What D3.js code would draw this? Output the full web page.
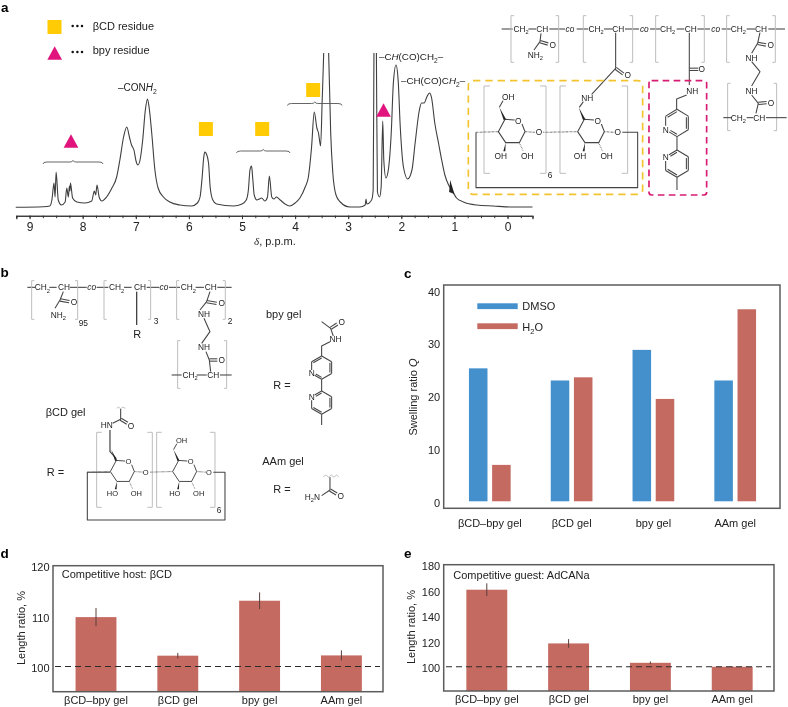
<!DOCTYPE html>
<html><head><meta charset="utf-8">
<script src="https://cdn.jsdelivr.net/npm/d3@7"></script>
<style>
html,body{margin:0;padding:0;background:#fff}
svg{display:block;filter:blur(0.3px)}
text{font-family:"Liberation Sans",Arial,sans-serif;fill:#222}
</style></head><body><svg id="c" width="788" height="707"></svg>
<script>
// ---------- data ----------
const spectrumDelta = [9.26,8.74,8.62,8.58,8.54,8.52,8.50,8.46,8.40,8.33,8.30,8.27,8.25,8.24,8.23,8.19,8.11,7.96,7.83,7.78,7.755,7.73,7.69,7.64,7.55,7.45,7.36,7.30,7.23,7.17,7.12,7.08,7.03,7.0,6.96,6.92,6.87,6.82,6.78,6.75,6.70,6.64,6.58,6.48,6.36,6.17,5.95,5.84,5.79,5.75,5.72,5.70,5.67,5.63,5.60,5.55,5.48,5.16,5.0,4.92,4.88,4.85,4.82,4.80,4.77,4.72,4.67,4.63,4.57,4.52,4.485,4.44,4.40,4.35,4.28,4.19,4.10,4.0,3.91,3.81,3.75,3.69,3.64,3.59,3.56,3.52,3.49,3.46,3.41,3.37,3.33,3.29,3.23,3.15,2.97,2.78,2.68,2.665,2.65,2.56,2.53,2.515,2.49,2.47,2.45,2.41,2.38,2.35,2.33,2.29,2.245,2.19,2.15,2.10,2.06,2.02,1.96,1.88,1.80,1.74,1.66,1.62,1.57,1.52,1.47,1.43,1.37,1.30,1.24,1.18,1.11,1.05,0.96,0.83,0.58,0.27,-0.11,-0.47];
const spectrumHeight = [0.7,1.3,2,8,25,11,36,8,3,6,20,11,22,17,25,10,6,5,7,17,13,23,11,7,11,20,31,48,71,81,71,63,57,48,43,48,68,98,109,101,75,38,20,11,6,3,2,5,11,31,51,56,54,45,21,8,4,2,4,8,18,38,42,31,13,8,9,10,7,11,32,11,9,11,8,4,2,5,10,21,31,61,96,80,75,62,108,158,300,158,75,35,13,6,1,1,3,9,4,8,18,160,300,160,16,11,21,87,48,30,38,75,125,143,128,81,41,29,38,65,98,105,105,111,115,110,85,65,48,33,23,18,10,6,3,2,1,1];
const spectrumMajorTicks = [9,8,7,6,5,4,3,2,1,0];
const bcdMarkerDelta = [5.68,4.62,3.66];
const bcdMarkerHeight = [79,79,118];
const bpyMarkerDelta = [8.22,2.335];
const bpyMarkerHeight = [67,98];

const gels = ["βCD–bpy gel","βCD gel","bpy gel","AAm gel"];
const swellSeries = ["DMSO","H2O"];
const swellDMSO = [25.2,22.9,28.7,22.9];
const swellH2O = [6.9,23.5,19.4,36.4];
const swellTicks = [0,10,20,30,40];
const hostLength = [109.8,102.15,113.05,102.2];
const hostError = [1.8,0.55,1.65,1.0];
const hostTicks = [100,110,120];
const guestLength = [160.4,118.3,103.1,100];
const guestError = [5,3.4,1,0.5];
const guestTicks = [100,120,140,160,180];

// ---------- palette ----------
const BLUE="#4390CD", RED="#C56A61", GOLD="#FFCB05", MAGENTA="#E0147C", FRAME="#5c5c5c", INK="#444";
const svg=d3.select("#c");

// rich text: _x subscript, *x* italic
function rich(g,x,y,str,o={}){
  const t=g.append("text").attr("x",x).attr("y",y).attr("font-size",o.size||11)
    .attr("text-anchor",o.anchor||"start").attr("dy",o.dy||null);
  if(o.rotate!=null) t.attr("transform",`rotate(${o.rotate} ${x} ${y})`);
  const size=o.size||11;
  const re=/(_[^_ ]|\*[^*]+\*)/g; let sub=false;
  str.split(re).filter(s=>s).forEach(p=>{
    const s=t.append("tspan");
    if(p[0]==="_"){s.text(p.slice(1)).attr("font-size",size*.68).attr("dy",size*.28);sub=true;}
    else{
      if(sub){s.attr("dy",-size*.28);sub=false;}
      if(p[0]==="*"){s.text(p.slice(1,-1)).attr("font-style","italic");}
      else s.text(p);
    }
  });
  return t;
}
const panelLetter=(t,x,y)=>svg.append("text").attr("x",x).attr("y",y).attr("font-size",13.5).attr("font-weight","bold").style("fill","#000").text(t);
panelLetter("a",1,12);panelLetter("b",0.5,277);panelLetter("c",404,278);panelLetter("d",0.5,558);panelLetter("e",404,558);

// ---------- panel a: spectrum ----------
const xA=d3.scaleLinear().domain([9.25,-0.47]).range([16.3,532.5]);
const yA=d3.scaleLinear().domain([0,155]).range([208,53]);
svg.append("clipPath").attr("id","specClip").append("rect").attr("x",10).attr("y",yA(155)).attr("width",530).attr("height",170);
svg.append("path").attr("clip-path","url(#specClip)")
  .attr("d",d3.line().x(d=>xA(d[0])).y(d=>yA(d[1])).curve(d3.curveMonotoneX)(spectrumDelta.map((d,i)=>[d,spectrumHeight[i]])))
  .attr("fill","none").attr("stroke","#3f3f3f").attr("stroke-width",1.1);
// small arrow on the trace
svg.append("path").attr("d",`M${xA(1.08)},${yA(28)}L${xA(1.0)},${yA(14)}L${xA(1.1)},${yA(16)}Z`).attr("fill","#222");
const axA=svg.append("g").attr("transform","translate(0,215.7)");
axA.call(d3.axisBottom(xA).tickValues(d3.range(-0.25,9.26,0.25)).tickSize(2.5).tickFormat(""));
axA.append("g").call(d3.axisBottom(xA).tickValues(spectrumMajorTicks).tickSize(3.5).tickPadding(3.5).tickFormat(d3.format("d")));
axA.selectAll("path.domain").attr("stroke","#333").attr("stroke-width",1.1);
axA.selectAll("line").attr("stroke","#333");
axA.selectAll("text").attr("font-size",12).attr("font-family",'"Liberation Sans"').style("fill","#222");
const dl=svg.append("text").attr("x",254).attr("y",245).attr("font-size",11);
dl.append("tspan").text("δ").attr("font-style","italic").style("font-family",'"Liberation Serif"');
dl.append("tspan").text(", p.p.m.");

function square(g,cx,cy,s=14){g.append("rect").attr("x",cx-s/2).attr("y",cy-s/2).attr("width",s).attr("height",s).attr("fill",GOLD);}
function tri(g,cx,cy,w=14.7,h=13.3){g.append("path").attr("d",d3.line()([[cx,cy-h/2],[cx+w/2,cy+h/2],[cx-w/2,cy+h/2]])+"Z").attr("fill",MAGENTA);}
bcdMarkerDelta.forEach((d,i)=>square(svg,xA(d),yA(bcdMarkerHeight[i])));
bpyMarkerDelta.forEach((d,i)=>tri(svg,xA(d),yA(bpyMarkerHeight[i])));
square(svg,54.5,27);tri(svg,54.7,53);
[[26],[52]].forEach(([y])=>[72.7,77.4,82].forEach(x=>svg.append("circle").attr("cx",x).attr("cy",y).attr("r",1.25).attr("fill","#111")));
rich(svg,92.7,30,"βCD residue");
rich(svg,92.7,54,"bpy residue");
function brace(x0,x1,y){const m=(x0+x1)/2;
  svg.append("path").attr("d",`M${x0},${y+2}Q${x0},${y} ${x0+4},${y}L${m-3},${y}Q${m-1},${y} ${m},${y-1.5}Q${m+1},${y} ${m+3},${y}L${x1-4},${y}Q${x1},${y} ${x1},${y+2}`).attr("fill","none").attr("stroke","#555").attr("stroke-width",.9);}
brace(43,103,162);brace(236.5,290,151);brace(287.5,342,103.5);
rich(svg,118,91,"–CON*H*_2",{size:10});
rich(svg,379,60,"–C*H*(CO)CH_2–",{size:9.8});
rich(svg,401,84,"–CH(CO)C*H*_2–",{size:9.8});

// ---------- chemical structure helpers (drawn in 3x local units) ----------
function seg(g,pts,o={}){return g.append("path").attr("d",d3.line()(pts)).attr("fill","none").attr("stroke",o.c||INK).attr("stroke-width",o.w||3.2).attr("stroke-dasharray",o.d||null).attr("stroke-linejoin","round");}
function brk(g,x,y0,y1,dir,w=8){seg(g,[[x+dir*w,y0],[x,y0],[x,y1],[x+dir*w,y1]],{c:"#bdbdbd",w:3});}
function lab(g,x,y,s,o={}){return rich(g,x,y,s,Object.assign({size:25,anchor:"middle",dy:"0.36em"},o));}
function dbl(g,a,b){const dx=b[0]-a[0],dy=b[1]-a[1],l=Math.hypot(dx,dy),nx=-dy/l*3.5,ny=dx/l*3.5;
  seg(g,[[a[0]+nx,a[1]+ny],[b[0]+nx,b[1]+ny]]);seg(g,[[a[0]-nx,a[1]-ny],[b[0]-nx,b[1]-ny]]);}
function glucose(g,ox,oy,s,o){
  const r=g.append("g").attr("transform",`translate(${ox},${oy}) scale(${s})`);
  seg(r,[[-11,-2],[-40,-4],[-60,33],[-38,66],[3,66],[20,33],[11,10]]);
  lab(r,0,0,"O");
  r.append("path").attr("d","M-37,-4L-44,-2L-57,-40Z").attr("fill","#222");
  r.append("path").attr("d","M-38,66L-45,92L-39,92Z").attr("fill","#222");
  seg(r,[[3,66],[14,90]],{d:"2 3"});
  seg(r,[[20,33],[50,35]],{d:"2 2"});
  seg(r,[[o.left,35],[-60,33]],{d:"2 2"});
  lab(r,o.oX||62,35,"O");
  lab(r,-53,106,o.leftOH||"OH");lab(r,27,106,"OH");
  if(o.top==="OH"){seg(r,[[-57,-40],[-46,-60]]);lab(r,-30,-72,"OH");}
  return r;
}
function hexRing(g,c,rx,ry,flip){
  const [x,y]=c; const pts=[[x,y-ry],[x+rx,y-ry/2],[x+rx,y+ry/2],[x,y+ry],[x-rx,y+ry/2],[x-rx,y-ry/2]];
  const nIdx=flip?5:4;
  for(let i=0;i<6;i++){const a=pts[i],b=pts[(i+1)%6];
    const tr=(p,q,t)=>[p[0]+(q[0]-p[0])*t,p[1]+(q[1]-p[1])*t];
    const A=i===nIdx?tr(a,b,.3):a,B=(i+1)%6===nIdx?tr(a,b,.7):b;
    seg(g,[A,B]);
    if(i%2===1){const mid=[x,y];seg(g,[tr(A,mid,.17),tr(B,mid,.17)]);}
  }
  lab(g,pts[nIdx][0],pts[nIdx][1],"N");
  return pts;
}

// polymer + side groups (top right)
const A3=svg.append("g").attr("transform","translate(460,0) scale(0.3333)");
[[125,158],[205,228],[268,315],[350,385],[432,458],[495,537],[570,600],[650,673],[712,750],[785,812],[860,885],[925,975]].forEach(([a,b])=>seg(A3,[[a,87],[b,87]]));
[183,408,623,835].forEach(x=>lab(A3,x,87,"CH_2"));
[247,475,692,903].forEach(x=>lab(A3,x,87,"CH"));
[330,553,767].forEach(x=>lab(A3,x,87,"*co*"));
[[153,47,187,1],[296,47,187,-1],[370,47,187,1],[518,47,187,-1],[587,47,187,1],[733,47,187,-1],[800,47,187,1],[946,47,187,-1],[803,250,392,1],[950,250,392,-1]].forEach(b=>brk(A3,b[0],b[1],b[2],b[3],9));
[[72,258,520,1],[258,258,520,-1],[300,258,520,1],[503,258,520,-1]].forEach(b=>brk(A3,b[0],b[1],b[2],b[3],18));
seg(A3,[[243,100],[240,125],[222,150]]);dbl(A3,[240,125],[264,132]);lab(A3,278,134,"O");lab(A3,226,165,"NH_2");
seg(A3,[[467,98],[467,205],[395,283]]);dbl(A3,[467,205],[490,222]);lab(A3,503,226,"O");lab(A3,382,295,"NH");
seg(A3,[[688,98],[688,255]]);dbl(A3,[688,208],[715,208]);lab(A3,725,208,"O");lab(A3,697,273,"NH");
seg(A3,[[680,285],[650,297],[650,328]]);
hexRing(A3,[651,369],34,41,false);seg(A3,[[651,410],[651,450]]);hexRing(A3,[651,491],34,41,true);seg(A3,[[651,532],[651,570]]);
seg(A3,[[900,98],[893,130],[875,160]]);dbl(A3,[893,130],[918,135]);lab(A3,932,135,"O");lab(A3,875,173,"NH");
seg(A3,[[875,185],[900,215],[875,258]]);lab(A3,875,272,"NH");seg(A3,[[875,285],[895,310],[888,340]]);dbl(A3,[895,310],[920,308]);lab(A3,933,308,"O");
seg(A3,[[790,353],[815,353]]);seg(A3,[[860,353],[880,353]]);seg(A3,[[918,353],[980,353]]);lab(A3,835,353,"CH_2");lab(A3,898,353,"CH");
glucose(A3,175,362,1,{left:-127,top:"OH"});
glucose(A3,413,362,1,{left:-163,oX:60});
seg(A3,[[358,322],[370,305]]);
seg(A3,[[487,397],[533,397],[533,563],[48,563],[48,397]]);
lab(A3,270,525,"6");
A3.append("rect").attr("x",25).attr("y",242).attr("width",523).attr("height",341).attr("rx",14).attr("fill","none").attr("stroke","#F4C430").attr("stroke-width",5).attr("stroke-dasharray","22 15");
A3.append("rect").attr("x",567).attr("y",242).attr("width",173).attr("height",343).attr("rx",8).attr("fill","none").attr("stroke","#D81B72").attr("stroke-width",5).attr("stroke-dasharray","20 13");

// ---------- panel b ----------
const B3=svg.append("g").attr("transform","translate(0,260) scale(0.3333)");
[[82,105],[148,170],[210,260],[290,325],[372,395],[440,478],[507,540],[587,612],[652,695]].forEach(([a,b])=>seg(B3,[[a,82],[b,82]]));
[127,350,565].forEach(x=>lab(B3,x,82,"CH_2"));
[192,420,632].forEach(x=>lab(B3,x,82,"CH"));
[275,492].forEach(x=>lab(B3,x,82,"*co*"));
[[95,62,178,1],[233,62,178,-1],[312,62,178,1],[452,62,178,-1],[530,62,178,1],[676,62,178,-1],[533,242,385,1],[680,242,385,-1]].forEach(b=>brk(B3,b[0],b[1],b[2],b[3],8));
[[290,517,742,1],[457,517,742,-1],[470,517,742,1],[645,517,742,-1]].forEach(b=>brk(B3,b[0],b[1],b[2],b[3],15));
lab(B3,250,190,"95");lab(B3,468,183,"3");lab(B3,690,183,"2");lab(B3,657,750,"6");
seg(B3,[[190,95],[180,120],[165,145]]);dbl(B3,[180,120],[208,125]);lab(B3,222,127,"O");lab(B3,175,165,"NH_2");
seg(B3,[[410,95],[410,195]],{w:4});lab(B3,412,222,"R",{size:33});
seg(B3,[[630,95],[620,125],[600,150]]);dbl(B3,[620,125],[650,130]);lab(B3,665,130,"O");lab(B3,612,163,"NH");
seg(B3,[[612,175],[630,215],[605,250]]);lab(B3,612,262,"NH");seg(B3,[[618,275],[628,300],[632,335]]);dbl(B3,[628,300],[652,300]);lab(B3,665,300,"O");
seg(B3,[[515,345],[545,345]]);seg(B3,[[590,345],[620,345]]);seg(B3,[[660,345],[695,345]]);lab(B3,570,345,"CH_2");lab(B3,640,345,"CH");
rich(B3,798,175,"bpy gel",{size:33});rich(B3,137,467,"βCD gel",{size:33});rich(B3,787,615,"AAm gel",{size:33});
rich(B3,820,386,"R =",{size:33});rich(B3,140,648,"R =",{size:33});rich(B3,820,698,"R =",{size:33});
// bpy group
seg(B3,[[965,185],[992,205],[1000,228]]);dbl(B3,[992,205],[1012,192]);lab(B3,1025,185,"O");lab(B3,1007,238,"NH");
seg(B3,[[990,245],[965,258],[965,288]]);
hexRing(B3,[965,323],30,35,false);seg(B3,[[965,358],[965,393]]);hexRing(B3,[965,428],30,35,true);seg(B3,[[965,463],[965,495]]);
// AAm group
seg(B3,[[970,650],[978,645],[986,652],[994,645],[1002,652],[1010,645],[1016,650]],{c:"#aaa",w:2.2});
seg(B3,[[990,652],[990,690],[965,707]]);dbl(B3,[990,690],[1010,702]);lab(B3,1022,709,"O");lab(B3,937,710,"H_2N");
// βCD group
seg(B3,[[350,445],[356,441],[362,447],[368,441],[376,445]],{c:"#aaa",w:2.2});
seg(B3,[[362,447],[362,478],[338,490]]);dbl(B3,[362,478],[382,490]);lab(B3,393,497,"O");lab(B3,320,495,"HN");
seg(B3,[[330,510],[330,575],[349,596]],{w:3.6});
glucose(B3,385,605,0.9,{left:-137,oX:58,leftOH:"HO"});
glucose(B3,572,605,0.9,{left:-135,oX:61,top:"OH",leftOH:"HO"});
seg(B3,[[640,637],[675,637],[675,780],[262,780],[262,637],[330,637]]);

// ---------- shared frame ----------
function frame(x0,x1,y0,y1){svg.append("rect").attr("x",x0).attr("y",y0).attr("width",x1-x0).attr("height",y1-y0).attr("fill","none").attr("stroke",FRAME).attr("stroke-width",1.5);}
function yAxis(scale,ticks,x){const g=svg.append("g").attr("transform",`translate(${x},0)`).call(d3.axisLeft(scale).tickValues(ticks).tickSize(0).tickPadding(3.5).tickFormat(d3.format("d")));
  g.select("path.domain").remove();g.selectAll("text").attr("font-size",11).attr("font-family",'"Liberation Sans"').attr("dy","0.45em").style("fill","#222");}
function xLabels(scale,y){const g=svg.append("g").attr("transform",`translate(0,${y})`).call(d3.axisBottom(scale).tickSize(0).tickPadding(0));
  g.select("path.domain").remove();g.selectAll("text").attr("font-size",11).attr("font-family",'"Liberation Sans"').attr("y",0).attr("dy",0).style("fill","#222");}

// ---------- panel c ----------
const yC=d3.scaleLinear().domain([-1.33,41]).range([508.3,285]);
const xC=d3.scaleBand().domain(gels).range([448.9,776.1]).paddingInner(.49).paddingOuter(.245);
const xCs=d3.scaleBand().domain(swellSeries).range([0,xC.bandwidth()]).paddingInner(.2);
const swellVal={DMSO:swellDMSO,H2O:swellH2O}, swellCol={DMSO:BLUE,H2O:RED};
swellSeries.forEach(s=>{
  svg.append("g").selectAll("rect").data(gels).join("rect")
    .attr("x",d=>xC(d)+xCs(s)).attr("width",xCs.bandwidth())
    .attr("y",(d,i)=>yC(swellVal[s][i])).attr("height",(d,i)=>yC(0)-yC(swellVal[s][i]))
    .attr("fill",swellCol[s]);
});
frame(443.7,780,285,508.3);
yAxis(yC,swellTicks,443.7);
xLabels(xC,526.5);
rich(svg,413,397,"Swelling ratio *Q*",{anchor:"middle",rotate:-90,size:11,dy:"0.35em"});
svg.append("rect").attr("x",477.3).attr("y",303.3).attr("width",40.4).attr("height",5.8).attr("fill",BLUE);
svg.append("rect").attr("x",477.3).attr("y",323.3).attr("width",40.4).attr("height",5.8).attr("fill",RED);
rich(svg,522.3,310,"DMSO");
rich(svg,522.3,330.5,"H_2O");

// ---------- panels d, e ----------
function lengthPanel(o){
  const y=d3.scaleLinear().domain(o.dom).range(o.yr);
  const x=d3.scaleBand().domain(gels).range(o.xr).paddingInner(.5).paddingOuter(.25);
  svg.append("g").selectAll("rect").data(gels).join("rect")
    .attr("x",d=>x(d)).attr("width",x.bandwidth())
    .attr("y",(d,i)=>y(o.val[i])).attr("height",(d,i)=>y(o.dom[0])-y(o.val[i])).attr("fill",RED);
  svg.append("line").attr("x1",o.dash[0]).attr("x2",o.dash[1]).attr("y1",y(100)).attr("y2",y(100))
    .attr("stroke","#2b2b2b").attr("stroke-width",1).attr("stroke-dasharray","6 4");
  svg.append("g").selectAll("line").data(gels).join("line")
    .attr("x1",d=>x(d)+x.bandwidth()/2).attr("x2",d=>x(d)+x.bandwidth()/2)
    .attr("y1",(d,i)=>y(o.val[i]+o.err[i])).attr("y2",(d,i)=>y(o.val[i]-o.err[i]))
    .attr("stroke","#5a3f3c").attr("stroke-width",1);
  frame(o.fx[0],o.fx[1],o.yr[1],o.yr[0]);
  yAxis(y,o.ticks,o.fx[0]);
  xLabels(x,o.lab);
  rich(svg,o.tx,o.ty,o.title,{size:11});
  rich(svg,o.tl,o.tlY,"Length ratio, %",{anchor:"middle",rotate:-90,size:11,dy:"0.35em"});
}
lengthPanel({dom:[95,120],yr:[691.7,565.7],xr:[55.1,382.3],fx:[53,383],val:hostLength,err:hostError,ticks:hostTicks,dash:[55,380],lab:704,tx:61.7,ty:578.3,title:"Competitive host: βCD",tl:21,tlY:628});
lengthPanel({dom:[81,180],yr:[691,564.7],xr:[445.9,773.1],fx:[443.7,774],val:guestLength,err:guestError,ticks:guestTicks,dash:[446,771],lab:703,tx:453.3,ty:579,title:"Competitive guest: AdCANa",tl:410.7,tlY:627});
</script></body></html>
